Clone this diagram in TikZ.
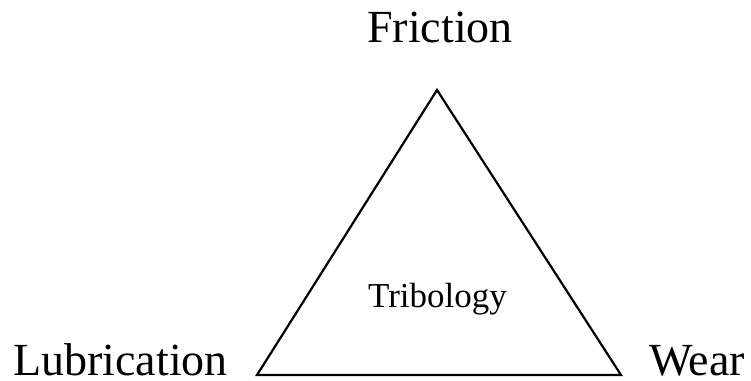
\documentclass[tikz,border=0pt]{standalone}
\usepackage{fontspec}
\setmainfont{Liberation Serif}
\begin{document}
\begin{tikzpicture}[x=1pt,y=1pt,
  bigtext/.style={font=\fontsize{46}{50}\selectfont, inner sep=0pt},
  smalltext/.style={font=\fontsize{35}{40}\selectfont, inner sep=0pt},
  edge/.style={line width=2.2pt, line join=miter}]
\useasboundingbox (0,0) rectangle (751,380);
\coordinate (top) at (437,290);
\coordinate (bl) at (257,5);
\coordinate (br) at (621,5);
\draw[edge] (top) -- (bl) -- (br) -- cycle;
\node[bigtext, anchor=base] (friction) at (440,337) {Friction};
\node[bigtext, text depth=0pt, anchor=base west] (lub) at (13,5) {Lubrication};
\node[bigtext, text depth=0pt, anchor=base west] (wear) at (649,5) {Wear};
\node[smalltext, anchor=base] (trib) at (437.5,73) {Tribology};
\end{tikzpicture}
\end{document}
